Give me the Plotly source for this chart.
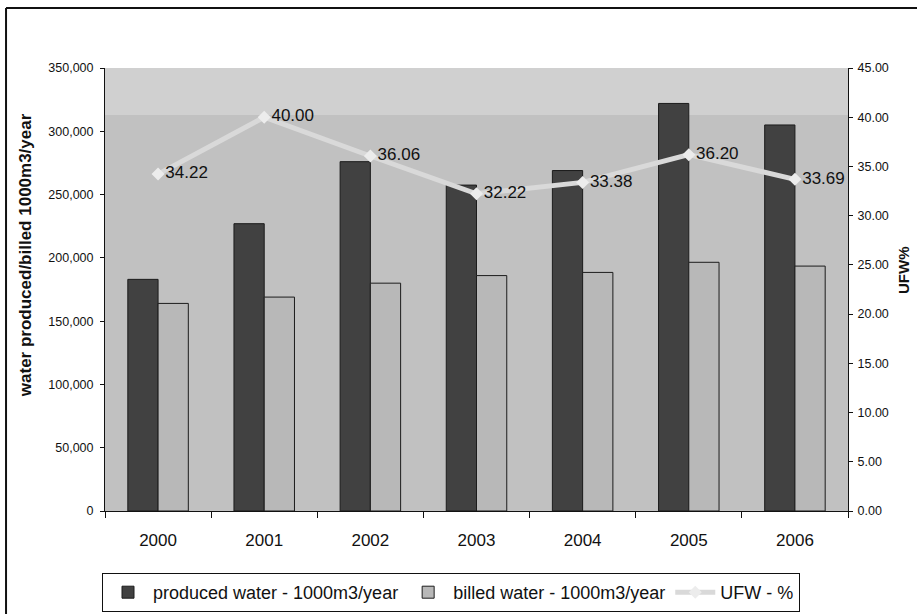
import plotly.graph_objects as go

# Annual water balance, 2000-2006
years = ["2000", "2001", "2002", "2003", "2004", "2005", "2006"]
produced = [183000, 227000, 276000, 257500, 269000, 322000, 305000]
billed = [164000, 169000, 180000, 186000, 188500, 196500, 193500]
ufw = [34.22, 40.00, 36.06, 32.22, 33.38, 36.20, 33.69]

FONT = "Liberation Sans, Arial, sans-serif"
INK = "#111111"

fig = go.Figure()

fig.add_bar(
    x=years, y=produced, name="produced water - 1000m3/year",
    marker=dict(color="#414141", line=dict(color="#1c1c1c", width=1)),
)
fig.add_bar(
    x=years, y=billed, name="billed water - 1000m3/year",
    marker=dict(color="#b8b8b8", line=dict(color="#1c1c1c", width=1)),
)
fig.add_scatter(
    x=years, y=ufw, yaxis="y2", name="UFW - %",
    mode="lines+markers+text",
    line=dict(color="#d9d9d9", width=5),
    marker=dict(symbol="diamond", size=10, color="#ececec"),
    texttemplate="%{y:.2f}", textposition="middle right",
    textfont=dict(family=FONT, size=17, color=INK),
    cliponaxis=False,
)

axis_common = dict(
    showgrid=False, zeroline=False, showline=True, linecolor=INK,
    linewidth=1, ticks="outside", ticklen=4, tickcolor=INK,
    tickfont=dict(family=FONT, size=12.5, color=INK),
    automargin=False,
)

fig.update_layout(
    width=917, height=614,
    margin=dict(l=105, r=69, t=68, b=103),
    paper_bgcolor="white", plot_bgcolor="#c1c1c1",
    barmode="group", bargap=0.43, bargroupgap=0,
    font=dict(family=FONT, color=INK),
    xaxis=dict(
        type="category", tickson="boundaries",
        showgrid=False, zeroline=False, showline=True, linecolor=INK,
        ticks="outside", ticklen=6, tickcolor=INK,
        tickfont=dict(family=FONT, size=17, color=INK),
        ticklabelstandoff=14, automargin=False,
    ),
    yaxis=dict(range=[0, 350000], dtick=50000, tickformat=",",
               ticklabelstandoff=4, **axis_common),
    yaxis2=dict(range=[0, 45], dtick=5, tickformat=".2f", overlaying="y",
                side="right", ticklabelstandoff=2, **axis_common),
    legend=dict(
        orientation="h", xref="container", yref="container",
        x=102 / 917, xanchor="left", y=1 - 573 / 614, yanchor="top",
        bordercolor=INK, borderwidth=1, bgcolor="white",
        font=dict(family=FONT, size=18, color=INK),
        traceorder="normal", itemwidth=40,
    ),
    showlegend=True,
    annotations=[
        dict(text="<b>water produced/billed 1000m3/year</b>", textangle=-90,
             xref="paper", yref="paper", x=-0.106, y=0.578,
             xanchor="center", yanchor="middle",
             showarrow=False, font=dict(family=FONT, size=17)),
        dict(text="<b>UFW%</b>", textangle=-90,
             xref="paper", yref="paper", x=1.074, y=0.544,
             xanchor="center", yanchor="middle",
             showarrow=False, font=dict(family=FONT, size=15)),
    ],
    shapes=[
        # lighter band along the top of the plotting area
        dict(type="rect", xref="paper", yref="paper", layer="below",
             x0=0, x1=1, y0=0.894, y1=1, line=dict(width=0),
             fillcolor="#d0d0d0"),
        # outer chart frame (left and top edges)
        dict(type="line", xref="paper", yref="paper",
             x0=-0.1332, x1=-0.1332, y0=1.1354, y1=-0.4,
             line=dict(color=INK, width=2)),
        dict(type="line", xref="paper", yref="paper",
             x0=-0.1332, x1=1.3, y0=1.1354, y1=1.1354,
             line=dict(color=INK, width=2)),
    ],
)

fig.write_html("out.html")
